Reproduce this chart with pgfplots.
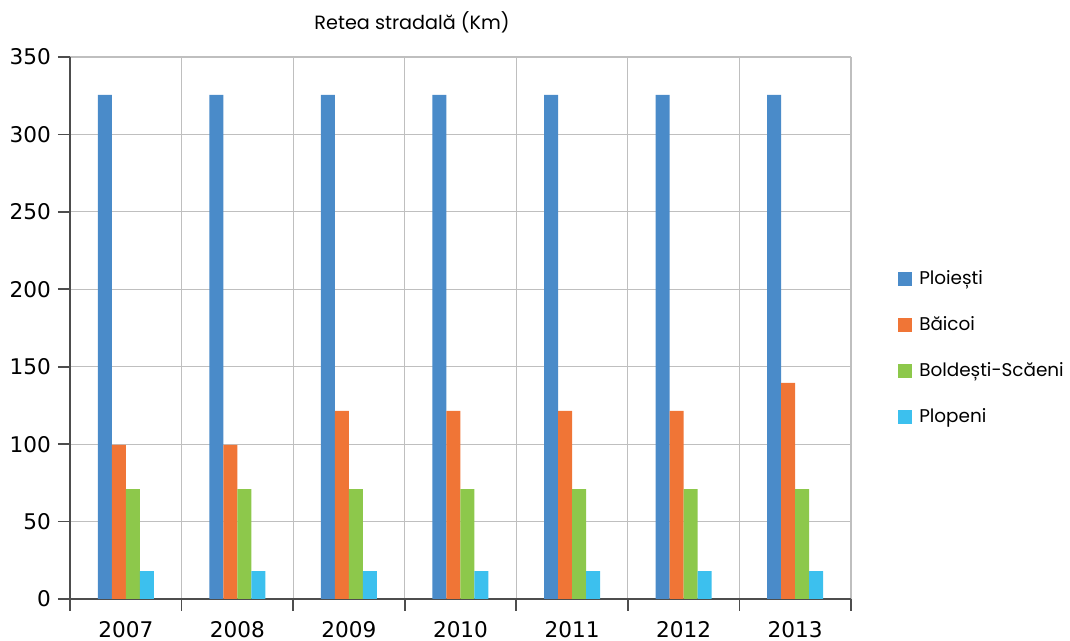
\documentclass[border=0pt]{standalone}
\usepackage{fontspec}
\usepackage{pgfplots}
\pgfplotsset{compat=1.18}
\newfontfamily\tickfont{DejaVu Sans}
\newfontfamily\labfont{Poppins}
\definecolor{cPlo}{HTML}{4A8BC9}
\definecolor{cBai}{HTML}{F07536}
\definecolor{cBol}{HTML}{8DC84B}
\definecolor{cPlp}{HTML}{3CC0EE}
\definecolor{gridc}{HTML}{BFBFBF}
\definecolor{axc}{HTML}{4D4D4D}
\begin{document}
\begin{tikzpicture}
\begin{axis}[
    at={(0,0)}, anchor=south west,
    scale only axis, clip=false,
    width=390.5pt, height=271pt,
    ybar=0pt, bar width=7pt,
    xmin=-0.5, xmax=6.5,
    ymin=0, ymax=350,
    ytick={0,50,100,150,200,250,300,350},
    xtick={-0.5,0.5,1.5,2.5,3.5,4.5,5.5,6.5},
    xticklabels={},
    extra x ticks={0,1,2,3,4,5,6},
    extra x tick labels={2007,2008,2009,2010,2011,2012,2013},
    extra x tick style={grid=none, tick style={draw=none},
        tick label style={yshift=-1.8pt}},
    axis x line*=bottom, axis y line*=left,
    axis line style={-, draw=axc, line width=0.8pt},
    tick align=outside, major tick length=6pt,
    tick style={draw=axc, line width=0.8pt},
    grid=major,
    major grid style={draw=gridc, line width=0.6pt},
    /pgf/number format/assume math mode=true,
    tick label style={font=\tickfont\fontsize{10.8}{12}\selectfont, text=black},
    legend style={at={(1.06,0.464)}, anchor=west, draw=none, fill=none,
        inner sep=0pt, row sep=10.5pt,
        font=\labfont\fontsize{9.2}{11}\selectfont,
        /tikz/every odd column/.style={column sep=1.5pt}},
    legend cell align=left,
    legend image code/.code={\draw[#1,draw=none] (0pt,-3.5pt) rectangle (7pt,3.5pt);},
]
\addplot[fill=cPlo, draw=none] coordinates {(0,325.5) (1,325.5) (2,325.5) (3,325.5) (4,325.5) (5,325.5) (6,325.5)};
\addlegendentry{Ploiești}
\addplot[fill=cBai, draw=none] coordinates {(0,99.5) (1,99.5) (2,121.5) (3,121.5) (4,121.5) (5,121.5) (6,139.5)};
\addlegendentry{Băicoi}
\addplot[fill=cBol, draw=none] coordinates {(0,71) (1,71) (2,71) (3,71) (4,71) (5,71) (6,71)};
\addlegendentry{Boldești-Scăeni}
\addplot[fill=cPlp, draw=none] coordinates {(0,18) (1,18) (2,18) (3,18) (4,18) (5,18) (6,18)};
\addlegendentry{Plopeni}
\node[font=\labfont\fontsize{9.6}{11}\selectfont] at (rel axis cs:0.438,1) [yshift=17.5pt] {Retea stradală (Km)};
\end{axis}
\pgfresetboundingbox
\useasboundingbox (-35pt,-21pt) rectangle (500pt,299.5pt);
\end{tikzpicture}
\end{document}
